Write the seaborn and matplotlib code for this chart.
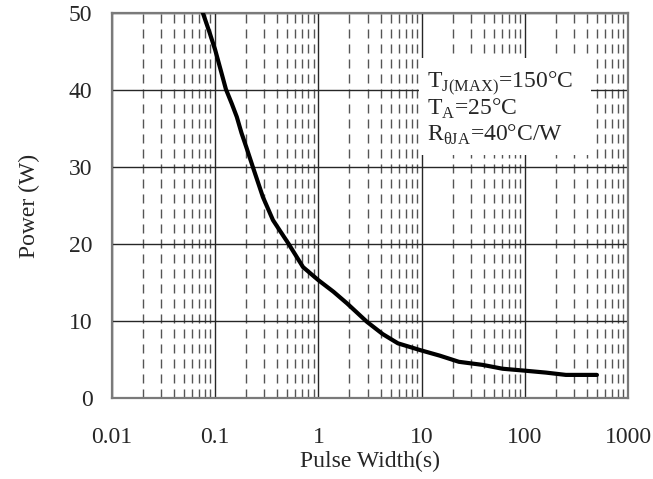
import numpy as np
import pandas as pd
import seaborn as sns
from matplotlib import pyplot as plt
from matplotlib.patches import Rectangle
from matplotlib.ticker import FixedLocator, FuncFormatter, LogLocator

# 数据：脉冲宽度与功率
pulse_width = [0.076, 0.088, 0.1, 0.113, 0.127, 0.145, 0.162, 0.18, 0.20, 0.233,
               0.29, 0.363, 0.43, 0.51, 0.71, 1.0, 1.4, 1.89, 2.95, 4.2, 5.9,
               9.8, 15, 23, 39, 61, 100, 160, 250, 500]
power = [50, 47.5, 45.2, 42.6, 40.1, 38.2, 36.5, 34.4, 32.6, 29.9,
         26.1, 23.1, 21.6, 20.1, 17.0, 15.3, 13.8, 12.3, 9.9, 8.3, 7.1,
         6.2, 5.5, 4.7, 4.3, 3.8, 3.55, 3.3, 3.0, 3.0]
x_ticks = [0.01, 0.1, 1, 10, 100, 1000]
y_ticks = [0, 10, 20, 30, 40, 50]

sns.set_style("white")
plt.rcParams["font.family"] = ["Liberation Serif", "DejaVu Serif"]
plt.rcParams["mathtext.fontset"] = "custom"
plt.rcParams["mathtext.rm"] = "Liberation Serif"

df = pd.DataFrame({"pulse": pulse_width, "power": power})

fig = plt.figure(figsize=(6.53, 4.79), dpi=100)
ax = fig.add_axes([0.1715, 0.1691, 0.7902, 0.8038])

sns.lineplot(data=df, x="pulse", y="power", color="black", linewidth=3.0, ax=ax, zorder=5)

ax.set_xscale("log")
ax.set_xlim(0.01, 1000)
ax.set_ylim(0, 50)
ax.xaxis.set_major_locator(FixedLocator(x_ticks))
ax.xaxis.set_major_formatter(FuncFormatter(lambda v, p: f"{v:g}"))
ax.xaxis.set_minor_locator(LogLocator(base=10, subs=np.arange(2, 10)))
ax.yaxis.set_major_locator(FixedLocator(y_ticks))

# 网格
ax.grid(True, which="major", color="#262626", linewidth=1.0)
ax.grid(True, which="minor", axis="x", color="#555555", linewidth=1.0,
        linestyle=(0, (6.5, 4.3)))
ax.set_axisbelow(True)

for s in ax.spines.values():
    s.set_color("#7a7a7a")
    s.set_linewidth(1.6)

ax.tick_params(axis="both", which="major", direction="in", length=5,
               color="#444444", labelsize=17)
ax.tick_params(axis="x", pad=21)
ax.tick_params(axis="y", pad=14)
ax.tick_params(axis="x", which="minor", length=0)

ax.set_xlabel("Pulse Width(s)", fontsize=17, labelpad=2)
ax.set_ylabel("Power (W)", fontsize=17, labelpad=21)

# 说明文字框
ax.add_patch(Rectangle((0.595, 0.631), 0.333, 0.252, transform=ax.transAxes,
                       facecolor="white", edgecolor="none", zorder=3))
txt_kw = dict(transform=ax.transAxes, fontsize=17, zorder=6, va="baseline", ha="left")
ax.text(0.610, 0.808, r"T$_{\mathrm{J(MAX)}}$=150°C", **txt_kw)
ax.text(0.610, 0.735, r"T$_{\mathrm{A}}$=25°C", **txt_kw)
ax.text(0.610, 0.668, r"R$_{\mathrm{\theta JA}}$=40°C/W", **txt_kw)

plt.savefig("out.png", dpi=100)
